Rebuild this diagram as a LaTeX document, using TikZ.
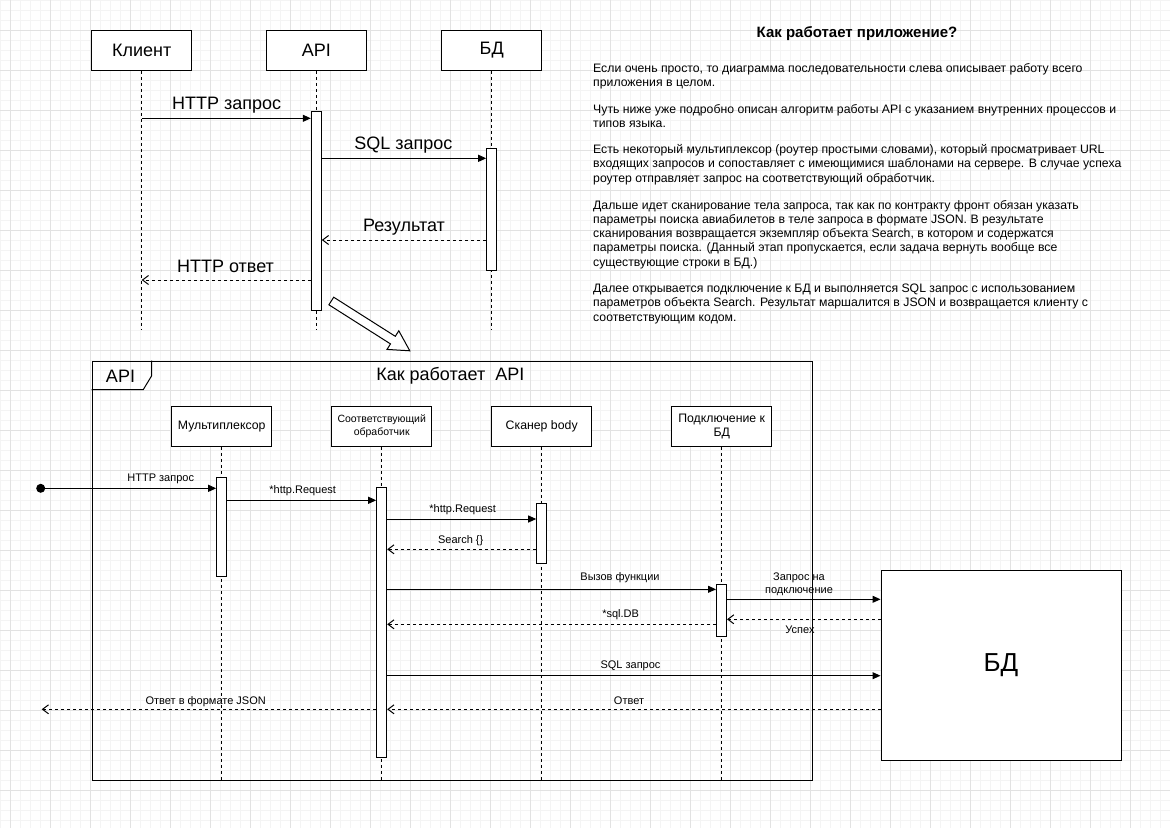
\documentclass[tikz,border=0pt]{standalone}
\usepackage{fontspec}
\setmainfont{Liberation Sans}
\usetikzlibrary{arrows.meta}
\definecolor{gmaj}{HTML}{E2E2E2}
\definecolor{gmin}{HTML}{F4F4F4}
\tikzset{
  x=1pt, y=-1pt,
  fA/.style={font=\fontsize{18}{21}\selectfont},
  fB/.style={font=\fontsize{12.3}{14.3}\selectfont},
  fC/.style={font=\fontsize{11}{13}\selectfont},
  fH/.style={font=\fontsize{10.5}{13.3}\selectfont},
  fT/.style={font=\fontsize{12.25}{14.3}\selectfont},
  lifebox/.style={draw, fill=white, line width=1pt, minimum width=100pt, minimum height=40pt, inner sep=0pt, align=center},
  actbox/.style={draw, fill=white, line width=1pt, minimum width=10pt, inner sep=0pt, anchor=north},
  life/.style={line width=1pt, dash pattern=on 3pt off 3pt},
  msg/.style={line width=1pt, -{Triangle[length=8pt,width=7pt]}},
  ret/.style={line width=1pt, dash pattern=on 3pt off 3pt, -{Straight Barb[length=6pt,width=9pt]}},
  lbl/.style={inner sep=0pt},
  para/.style={fT, anchor=base west, inner sep=0pt},
}
\begin{document}
\begin{tikzpicture}
\useasboundingbox (0,0) rectangle (1170,828);
\fill[white] (0,0) rectangle (1170,828);
% grid
\foreach \i in {0,10,...,1170} \draw[gmin, line width=0.7pt] (\i,0) -- (\i,828);
\foreach \j in {0,10,...,820} \draw[gmin, line width=0.7pt] (0,\j) -- (1170,\j);
\foreach \i in {10,50,...,1170} \draw[gmaj, line width=0.9pt] (\i,0) -- (\i,828);
\foreach \j in {30,70,...,820} \draw[gmaj, line width=0.9pt] (0,\j) -- (1170,\j);

% ---------- top sequence ----------
\node[lifebox, fA] (cli) at (141.7,50.3) {Клиент};
\node[lifebox, fA] (api) at (316.3,50.3) {API};
\node[lifebox, fA] (db)  at (491.7,50.3) {БД};
\coordinate (cliE) at (141.7,330);
\coordinate (apiE) at (316.3,330);
\coordinate (dbE)  at (491.7,330);
\draw[life] (cli) -- (cliE);
\draw[life] (api) -- (apiE);
\draw[life] (db) -- (dbE);
\node[actbox, minimum height=199.3pt] (aApi) at (316.3,110.7) {};
\node[actbox, minimum height=121.7pt] (aDb) at (491.7,148.3) {};

\draw[msg] (cli.center |- 0,118.3) -- (aApi.west |- 0,118.3);
\draw[msg] (aApi.east |- 0,158.3) -- (aDb.west |- 0,158.3);
\draw[ret] (aDb.west |- 0,240) -- (aApi.east |- 0,240);
\draw[ret] (aApi.west |- 0,280) -- (cli.center |- 0,280);
\node[lbl, fA] (t1) at (226.7,105) {HTTP запрос};
\node[lbl, fA] (t2) at (403.3,145) {SQL запрос};
\node[lbl, fA] (t3) at (404,226.7) {Результат};
\node[lbl, fA] (t4) at (225.5,266.7) {HTTP ответ};

% block arrow
\draw[line width=1pt, fill=white] (328.9,304.8) -- (390.5,343.9) -- (387,349.4) -- (409.8,350.8) -- (398.8,330.8) -- (395.3,336.3) -- (333.7,297.2) -- cycle;

% ---------- description text ----------
\node[font=\fontsize{15}{17}\selectfont\bfseries, inner sep=0pt] (title) at (857,34) {Как работает приложение?};
\node[para] (p1a) at (593,72.5) {Если очень просто, то диаграмма последовательности слева описывает работу всего};
\node[para] (p1b) at (593,86.8) {приложения в целом.};
\node[para] (p2a) at (593,113.5) {Чуть ниже уже подробно описан алгоритм работы API с указанием внутренних процессов и};
\node[para] (p2b) at (593,127.8) {типов языка.};
\node[para] (p3a) at (593,153.5) {Есть некоторый мультиплексор (роутер простыми словами), который просматривает URL};
\node[para] (p3b) at (593,167.8) {входящих запросов и сопоставляет с имеющимися шаблонами на сервере. В случае успеха};
\node[para] (p3c) at (593,182.1) {роутер отправляет запрос на соответствующий обработчик.};
\node[para] (p4a) at (593,209) {Дальше идет сканирование тела запроса, так как по контракту фронт обязан указать};
\node[para] (p4b) at (593,223.3) {параметры поиска авиабилетов в теле запроса в формате JSON. В результате};
\node[para] (p4c) at (593,237.6) {сканирования возвращается экземпляр объекта Search, в котором и содержатся};
\node[para] (p4d) at (593,251.9) {параметры поиска. (Данный этап пропускается, если задача вернуть вообще все};
\node[para] (p4e) at (593,266.2) {существующие строки в БД.)};
\node[para] (p5a) at (593,292.5) {Далее открывается подключение к БД и выполняется SQL запрос с использованием};
\node[para] (p5b) at (593,306.8) {параметров объекта Search. Результат маршалится в JSON и возвращается клиенту с};
\node[para] (p5c) at (593,321.1) {соответствующим кодом.};

% ---------- API frame ----------
\node[draw, line width=1pt, minimum width=720pt, minimum height=419.3pt, anchor=north west, inner sep=0pt] (frame) at (91.7,360.7) {};
\draw[line width=1pt] (frame.north west) ++(60,0) -- ++(0,15) -- ++(-8.5,14) -- ++(-51.5,0);
\node[lbl, fA] (tab) at (120.5,376.5) {API};
\node[lbl, fA] (ftitle) at (450.3,376) {Как работает\ \ API};

\node[lifebox, fB] (mux) at (221.7,426.3) {Мультиплексор};
\node[lifebox, fH] (hnd) at (381.7,426.3) {Соответствующий\\обработчик};
\node[lifebox, fB] (scn) at (541.7,426.3) {Сканер body};
\node[lifebox, fB] (con) at (721.7,426.3) {Подключение к\\БД};
\coordinate (muxE) at (221.7,780);
\coordinate (hndE) at (381.7,780);
\coordinate (scnE) at (541.7,780);
\coordinate (conE) at (721.7,780);
\draw[life] (mux) -- (muxE);
\draw[life] (hnd) -- (hndE);
\draw[life] (scn) -- (scnE);
\draw[life] (con) -- (conE);
\node[actbox, minimum height=99.6pt] (aMux) at (221.7,476.7) {};
\node[actbox, minimum height=270pt] (aHnd) at (381.7,486.7) {};
\node[actbox, minimum height=60pt] (aScn) at (541.7,503.3) {};
\node[actbox, minimum height=52pt] (aCon) at (721.5,584) {};

\node[draw, fill=white, line width=1pt, minimum width=240pt, minimum height=190pt, inner sep=0pt, font=\fontsize{26}{30}\selectfont] (bd) at (1001,665.5) {БД};

\node[circle, fill=black, inner sep=0pt, minimum size=9pt] (start) at (40.7,488.3) {};
\coordinate (client) at (41.7,709.3);

\draw[msg] (start) -- (aMux.west |- start);
\draw[msg] (aMux.east |- 0,500.3) -- (aHnd.west |- 0,500.3);
\draw[msg] (aHnd.east |- 0,519) -- (aScn.west |- 0,519);
\draw[ret] (aScn.west |- 0,549.3) -- (aHnd.east |- 0,549.3);
\draw[msg] (aHnd.east |- 0,589.3) -- (aCon.west |- 0,589.3);
\draw[msg] (aCon.east |- 0,599.3) -- (bd.west |- 0,599.3);
\draw[ret] (bd.west |- 0,619.3) -- (aCon.east |- 0,619.3);
\draw[ret] (aCon.west |- 0,624.3) -- (aHnd.east |- 0,624.3);
\draw[msg] (aHnd.east |- 0,675.7) -- (bd.west |- 0,675.7);
\draw[ret] (bd.west |- 0,709.3) -- (aHnd.east |- 0,709.3);
\draw[ret] (aHnd.west |- 0,709.3) -- (client);

\node[lbl, fC] (m1) at (160.7,479.3) {HTTP запрос};
\node[lbl, fC] (m2) at (302.7,491) {*http.Request};
\node[lbl, fC] (m3) at (462.7,510) {*http.Request};
\node[lbl, fC] (m4) at (460.7,540.3) {Search \{\}};
\node[lbl, fC] (m5) at (620,577.3) {Вызов функции};
\node[lbl, fC, align=center] (m6) at (799,584) {Запрос на\\подключение};
\node[lbl, fC] (m7) at (620.6,615) {*sql.DB};
\node[lbl, fC] (m8) at (800,630) {Успех};
\node[lbl, fC] (m9) at (630.5,666) {SQL запрос};
\node[lbl, fC] (m10) at (629,701) {Ответ};
\node[lbl, fC] (m11) at (205.7,701.3) {Ответ в формате JSON};
\end{tikzpicture}
\end{document}
